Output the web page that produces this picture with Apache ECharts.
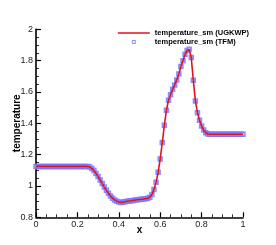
<!DOCTYPE html>
<html>
<head>
<meta charset="utf-8">
<script src="https://cdn.jsdelivr.net/npm/echarts@6/dist/echarts.min.js"></script>
<style>html,body{margin:0;padding:0;background:#fff}#c{width:276px;height:245px}</style>
</head>
<body>
<div id="c"></div>
<script>
// x positions: 0.00 .. 1.00 step 0.01 (101 points)
var xValues = [
 0.00,0.01,0.02,0.03,0.04,0.05,0.06,0.07,0.08,0.09,
 0.10,0.11,0.12,0.13,0.14,0.15,0.16,0.17,0.18,0.19,
 0.20,0.21,0.22,0.23,0.24,0.25,0.26,0.27,0.28,0.29,
 0.30,0.31,0.32,0.33,0.34,0.35,0.36,0.37,0.38,0.39,
 0.40,0.41,0.42,0.43,0.44,0.45,0.46,0.47,0.48,0.49,
 0.50,0.51,0.52,0.53,0.54,0.55,0.56,0.57,0.58,0.59,
 0.60,0.61,0.62,0.63,0.64,0.65,0.66,0.67,0.68,0.69,
 0.70,0.71,0.72,0.73,0.74,0.75,0.76,0.77,0.78,0.79,
 0.80,0.81,0.82,0.83,0.84,0.85,0.86,0.87,0.88,0.89,
 0.90,0.91,0.92,0.93,0.94,0.95,0.96,0.97,0.98,0.99,
 1.00
];
var ugkwpTemp = [
 1.125,1.125,1.125,1.125,1.125,1.125,1.125,1.125,1.125,1.125,
 1.125,1.125,1.125,1.125,1.125,1.125,1.125,1.125,1.125,1.125,
 1.125,1.125,1.125,1.125,1.125,1.124,1.121,1.112,1.098,1.080,
 1.060,1.038,1.015,0.993,0.972,0.953,0.936,0.922,0.911,0.903,
 0.898,0.895,0.896,0.899,0.902,0.904,0.906,0.908,0.910,0.912,
 0.914,0.915,0.917,0.919,0.922,0.928,0.945,0.978,1.023,1.087,
 1.172,1.277,1.387,1.483,1.547,1.582,1.617,1.645,1.677,1.715,
 1.762,1.800,1.840,1.864,1.872,1.820,1.674,1.542,1.468,1.420,
 1.383,1.357,1.340,1.332,1.330,1.330,1.330,1.330,1.330,1.330,
 1.330,1.330,1.330,1.330,1.330,1.330,1.330,1.330,1.330,1.330,
 1.330
];
var tfmTemp = [
 1.125,1.125,1.125,1.125,1.125,1.125,1.125,1.125,1.125,1.125,
 1.125,1.125,1.125,1.125,1.125,1.125,1.125,1.125,1.125,1.125,
 1.125,1.125,1.125,1.125,1.125,1.124,1.121,1.112,1.098,1.080,
 1.060,1.038,1.015,0.993,0.972,0.953,0.936,0.922,0.911,0.903,
 0.898,0.895,0.896,0.899,0.902,0.904,0.906,0.908,0.910,0.912,
 0.914,0.915,0.917,0.919,0.922,0.928,0.945,0.978,1.023,1.087,
 1.172,1.277,1.387,1.483,1.547,1.582,1.617,1.645,1.677,1.715,
 1.762,1.800,1.840,1.864,1.872,1.820,1.674,1.542,1.468,1.420,
 1.383,1.357,1.340,1.332,1.330,1.330,1.330,1.330,1.330,1.330,
 1.330,1.330,1.330,1.330,1.330,1.330,1.330,1.330,1.330,1.330,
 1.330
];
var seriesNames = ['temperature_sm (UGKWP)', 'temperature_sm (TFM)'];
var xTicks = [0, 0.2, 0.4, 0.6, 0.8, 1];
var yTicks = [0.8, 1, 1.2, 1.4, 1.6, 1.8, 2];

function pairs(xs, ys) { return xs.map(function (x, i) { return [x, ys[i]]; }); }
function fmt(v) { return String(Math.round(v * 10) / 10); }

var chart = echarts.init(document.getElementById('c'), null, { renderer: 'canvas' });
var font = 'Liberation Sans, Arial, sans-serif';
chart.setOption({
  animation: false,
  backgroundColor: '#ffffff',
  grid: { left: 36, right: 33, top: 29.3, bottom: 27.7, containLabel: false, outerBoundsMode: 'none' },
  legend: {
    right: 22, top: 24, orient: 'vertical',
    itemWidth: 32, itemHeight: 8, itemGap: 0.5,
    textStyle: { fontFamily: font, fontSize: 7.5, fontWeight: 'bold', color: '#000' },
    data: [
      { name: seriesNames[0], icon: 'path://M0,0 M32,8 M0,3.2 L32,3.2 L32,4.8 L0,4.8 Z',
        itemStyle: { color: '#e0141c', borderWidth: 0 } },
      { name: seriesNames[1], icon: 'path://M0,0 M32,8 M14.5,2.5 L17.5,2.5 L17.5,5.5 L14.5,5.5 Z',
        itemStyle: { color: '#ffffff', borderColor: '#6a6aff', borderWidth: 1 } }
    ]
  },
  xAxis: {
    type: 'value', min: xTicks[0], max: xTicks[xTicks.length - 1], interval: 0.2,
    name: 'x', nameLocation: 'middle', nameGap: 8, nameMoveOverlap: false,
    nameTextStyle: { fontFamily: font, fontSize: 10, fontWeight: 'bold', color: '#000' },
    axisLine: { show: true, onZero: false, lineStyle: { color: '#000', width: 1.6 } },
    axisTick: { show: true, inside: true, length: 5, lineStyle: { color: '#000', width: 1.2 } },
    minorTick: { show: true, splitNumber: 4, length: 3, lineStyle: { color: '#000', width: 0.8 } },
    axisLabel: { fontFamily: font, fontSize: 9, color: '#222', margin: 3, formatter: fmt },
    splitLine: { show: false }
  },
  yAxis: {
    type: 'value', min: yTicks[0], max: yTicks[yTicks.length - 1], interval: 0.2,
    name: 'temperature', nameLocation: 'middle', nameGap: 14, nameRotate: 90, nameMoveOverlap: false,
    nameTextStyle: { fontFamily: font, fontSize: 10, fontWeight: 'bold', color: '#000' },
    axisLine: { show: true, onZero: false, lineStyle: { color: '#000', width: 1.6 } },
    axisTick: { show: true, inside: true, length: 5, lineStyle: { color: '#000', width: 1.2 } },
    minorTick: { show: true, splitNumber: 4, length: 3, lineStyle: { color: '#000', width: 0.8 } },
    axisLabel: { fontFamily: font, fontSize: 9, color: '#222', margin: 3, formatter: fmt },
    splitLine: { show: false }
  },
  series: [
    {
      name: seriesNames[1], type: 'scatter', symbol: 'emptyRect', symbolSize: 3.5,
      itemStyle: { color: '#7272ff', borderColor: '#7272ff', borderWidth: 1 },
      data: pairs(xValues, tfmTemp), z: 2
    },
    {
      name: seriesNames[0], type: 'line', showSymbol: false, symbol: 'none',
      lineStyle: { color: '#e0141c', width: 1.6 }, itemStyle: { color: '#e0141c' },
      data: pairs(xValues, ugkwpTemp), z: 3
    }
  ]
});
</script>
</body>
</html>
